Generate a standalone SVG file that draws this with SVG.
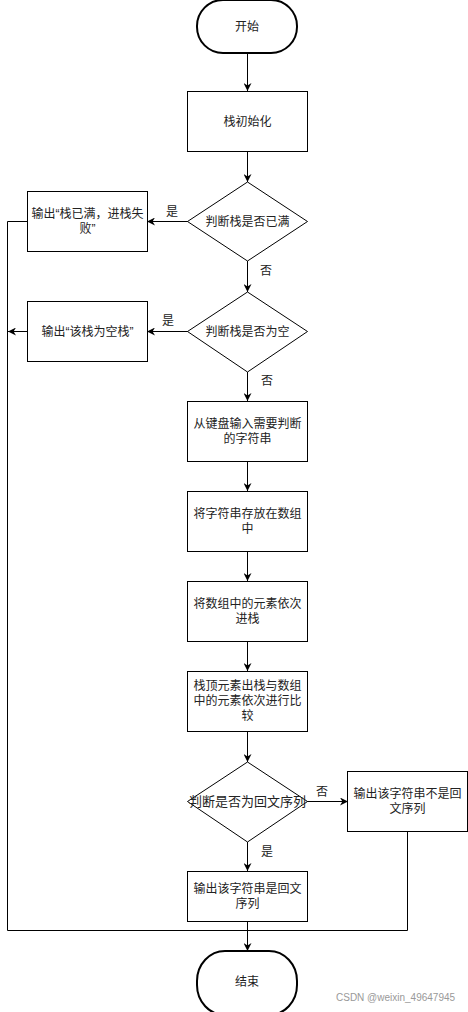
<svg xmlns="http://www.w3.org/2000/svg" width="468" height="1012" viewBox="0 0 468 1012">
<style>
.n{fill:#fff;stroke:#000;stroke-width:1}
.t{fill:#fff;stroke:#000;stroke-width:2}
.e{fill:none;stroke:#000;stroke-width:1}
text{font-family:"Noto Sans CJK SC","Noto Sans",sans-serif;font-size:12px;fill:#222;text-anchor:middle}
.q{font-family:"Liberation Sans",sans-serif}
.wm{font-family:"Liberation Sans",sans-serif;font-size:10px;fill:#999;text-anchor:start}
</style>
<defs>
<marker id="a" viewBox="0 0 10 10" refX="10" refY="5" markerWidth="8" markerHeight="8" markerUnits="userSpaceOnUse" orient="auto">
<path d="M0,0 L10,5 L0,10 L3,5 Z" fill="#000"/>
</marker>
</defs>
<rect width="468" height="1012" fill="#fff"/>
<g id="edges">
<path class="e" d="M247.5,53 V91" marker-end="url(#a)"/>
<path class="e" d="M247.5,151 V182" marker-end="url(#a)"/>
<path class="e" d="M188,221.5 H147" marker-end="url(#a)"/>
<path class="e" d="M247.5,261 V292" marker-end="url(#a)"/>
<path class="e" d="M188,331.5 H147" marker-end="url(#a)"/>
<path class="e" d="M247.5,372 V401" marker-end="url(#a)"/>
<path class="e" d="M247.5,461 V491" marker-end="url(#a)"/>
<path class="e" d="M247.5,551 V581" marker-end="url(#a)"/>
<path class="e" d="M247.5,641 V671" marker-end="url(#a)"/>
<path class="e" d="M247.5,731 V762" marker-end="url(#a)"/>
<path class="e" d="M307,801.5 H348" marker-end="url(#a)"/>
<path class="e" d="M247.5,842 V871" marker-end="url(#a)"/>
<path class="e" d="M247.5,921 V951" marker-end="url(#a)"/>
<path class="e" d="M27,221.5 H7.5 V930.5 H247.5"/>
<path class="e" d="M27,331.5 H8" marker-end="url(#a)"/>
<path class="e" d="M407.5,831 V930.5 H247.5"/>
<text x="172" y="216">是</text>
<text x="266" y="275">否</text>
<text x="168" y="325">是</text>
<text x="267" y="385">否</text>
<text x="322" y="796">否</text>
<text x="267" y="856">是</text>
</g>
<g id="start">
<rect class="t" x="197" y="0" width="100" height="53" rx="26" ry="26"/>
<text x="247" y="31">开始</text>
</g>
<g id="init">
<rect class="n" x="187.5" y="91.5" width="120" height="60"/>
<text x="247.5" y="126">栈初始化</text>
</g>
<g id="d1">
<path class="n" d="M247.5,182 L307.5,221.5 L247.5,261 L187.5,221.5 Z"/>
<text x="247.5" y="226">判断栈是否已满</text>
</g>
<g id="full">
<rect class="n" x="27.5" y="191.5" width="120" height="60"/>
<text x="87.5" y="218">输出<tspan class="q">“</tspan>栈已满，进栈失</text>
<text x="87.5" y="233">败<tspan class="q">”</tspan></text>
</g>
<g id="d2">
<path class="n" d="M247.5,292 L307.5,331.5 L247.5,372 L187.5,331.5 Z"/>
<text x="247.5" y="336">判断栈是否为空</text>
</g>
<g id="empty">
<rect class="n" x="27.5" y="301.5" width="120" height="60"/>
<text x="87.5" y="336">输出<tspan class="q">“</tspan>该栈为空栈<tspan class="q">”</tspan></text>
</g>
<g id="input">
<rect class="n" x="187.5" y="401.5" width="120" height="60"/>
<text x="247.5" y="428">从键盘输入需要判断</text>
<text x="247.5" y="443">的字符串</text>
</g>
<g id="store">
<rect class="n" x="187.5" y="491.5" width="120" height="60"/>
<text x="247.5" y="518">将字符串存放在数组</text>
<text x="247.5" y="533">中</text>
</g>
<g id="push">
<rect class="n" x="187.5" y="581.5" width="120" height="60"/>
<text x="247.5" y="608">将数组中的元素依次</text>
<text x="247.5" y="623">进栈</text>
</g>
<g id="compare">
<rect class="n" x="187.5" y="671.5" width="120" height="60"/>
<text x="247.5" y="690">栈顶元素出栈与数组</text>
<text x="247.5" y="705">中的元素依次进行比</text>
<text x="247.5" y="720">较</text>
</g>
<g id="d3">
<path class="n" d="M247.5,762 L307.5,801.5 L247.5,842 L187.5,801.5 Z"/>
<text x="247.5" y="806" style="font-size:13px">判断是否为回文序列</text>
</g>
<g id="notpal">
<rect class="n" x="347.5" y="771.5" width="120" height="60"/>
<text x="407.5" y="798">输出该字符串不是回</text>
<text x="407.5" y="813">文序列</text>
</g>
<g id="pal">
<rect class="n" x="187.5" y="871.5" width="120" height="50"/>
<text x="247.5" y="893">输出该字符串是回文</text>
<text x="247.5" y="908">序列</text>
</g>
<g id="end">
<rect class="t" x="197" y="951" width="100" height="64" rx="28" ry="30"/>
<text x="247" y="986">结束</text>
</g>
<text class="wm" x="336" y="1001">CSDN @weixin_49647945</text>
</svg>
